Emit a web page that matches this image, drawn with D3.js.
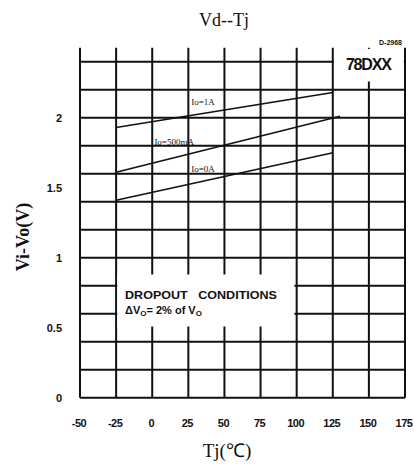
<!DOCTYPE html>
<html>
<head>
<meta charset="utf-8">
<script src="https://cdn.jsdelivr.net/npm/d3@7"></script>
<style>
  body { margin: 0; background: #fff; }
  svg { display: block; }
</style>
</head>
<body>
<svg id="chart" width="414" height="471"></svg>
<script>
// chart data
const xTicks = [-50, -25, 0, 25, 50, 75, 100, 125, 150, 175];
const yTicks = [0, 0.5, 1, 1.5, 2];
const yTickLabels = ["0", "0.5", "1", "1.5", "2"];

const seriesNames = ["Io=1A", "Io=500mA", "Io=0A"];
const io1A = [[-25, 1.93], [125, 2.18]];
const io500mA = [[-25, 1.61], [130, 2.01]];
const io0A = [[-25, 1.41], [125, 1.75]];
// where each series label sits, in data units (temp, volts at baseline)
const labelAt = [[27, 2.09], [1.5, 1.805], [27, 1.61]];

const width = 414, height = 471;
const margin = { top: 47.7, right: 9, bottom: 73.3, left: 80 };

const svg = d3.select('#chart');

const x = d3.scaleLinear().domain([-50, 175]).range([margin.left, width - margin.right]);
const y = d3.scaleLinear().domain([0, 2.5]).range([height - margin.bottom, margin.top]);

const ink = "#111";

// grid
const grid = svg.append("g").attr("stroke", ink).attr("stroke-width", 2);

grid.selectAll("line.h")
  .data(y.ticks(10))
  .join("line")
  .attr("class", "h")
  .attr("x1", x(-50)).attr("x2", x(175))
  .attr("y1", d => y(d)).attr("y2", d => y(d));

grid.selectAll("line.v")
  .data(xTicks)
  .join("line")
  .attr("class", "v")
  .attr("x1", d => x(d)).attr("x2", d => x(d))
  .attr("y1", y(2.5)).attr("y2", y(0));

// 78DXX box covers the top right cells
svg.append("rect")
  .attr("x", x(125) + 1.2).attr("y", y(2.5) + 1.2)
  .attr("width", x(175) - x(125) - 2.4)
  .attr("height", y(2.25) - y(2.5) - 2.4)
  .attr("fill", "#fff");

svg.append("text")
  .attr("x", (x(125) + x(175)) / 2).attr("y", 70)
  .attr("text-anchor", "middle")
  .attr("font-family", "Liberation Sans, Arial, sans-serif")
  .attr("font-weight", "bold")
  .attr("font-size", 16)
  .attr("textLength", 46)
  .attr("fill", ink)
  .text("78DXX");

svg.append("text")
  .attr("x", 402).attr("y", 45)
  .attr("text-anchor", "end")
  .attr("font-family", "Liberation Sans, Arial, sans-serif")
  .attr("font-weight", "bold")
  .attr("font-size", 7)
  .attr("fill", ink)
  .text("D-2968");

// dropout conditions box
svg.append("rect")
  .attr("x", x(-25) + 1.2).attr("y", y(0.88))
  .attr("width", x(100) - x(-25) - 3.5)
  .attr("height", y(0.5) - y(0.88) - 1.2)
  .attr("fill", "#fff");

const note = svg.append("text")
  .attr("font-family", "Liberation Sans, Arial, sans-serif")
  .attr("font-weight", "bold")
  .attr("font-size", 11)
  .style("white-space", "pre")
  .attr("fill", ink);
note.append("tspan")
  .attr("x", 125).attr("y", 299)
  .attr("textLength", 152)
  .attr("lengthAdjust", "spacingAndGlyphs")
  .text("DROPOUT   CONDITIONS");
const l2 = note.append("tspan").attr("x", 125).attr("y", 314).text("ΔV");
l2.append("tspan").attr("font-size", 8).attr("dy", 2).text("O");
l2.append("tspan").attr("dy", -2).text("= 2% of V");
l2.append("tspan").attr("font-size", 8).attr("dy", 2).text("O");

// series lines
const line = d3.line().x(d => x(d[0])).y(d => y(d[1]));
svg.append("g")
  .selectAll("path")
  .data([io1A, io500mA, io0A])
  .join("path")
  .attr("d", line)
  .attr("fill", "none")
  .attr("stroke", ink)
  .attr("stroke-width", 1.6);

svg.append("g")
  .selectAll("text")
  .data(seriesNames)
  .join("text")
  .attr("x", (d, i) => x(labelAt[i][0]))
  .attr("y", (d, i) => y(labelAt[i][1]))
  .attr("font-family", "Liberation Serif, Times New Roman, serif")
  .attr("font-size", 9)
  .attr("fill", ink)
  .text(d => d);

// tick labels
svg.append("g")
  .selectAll("text")
  .data(yTicks)
  .join("text")
  .attr("x", 62)
  .attr("y", d => y(d) + 4)
  .attr("text-anchor", "end")
  .attr("font-family", "Liberation Sans, Arial, sans-serif")
  .attr("font-weight", "bold")
  .attr("font-size", 11)
  .attr("fill", ink)
  .text((d, i) => yTickLabels[i]);

svg.append("g")
  .selectAll("text")
  .data(xTicks)
  .join("text")
  .attr("x", d => x(d) - 1)
  .attr("y", 427)
  .attr("text-anchor", "middle")
  .attr("font-family", "Liberation Sans, Arial, sans-serif")
  .attr("font-weight", "bold")
  .attr("font-size", 11)
  .attr("letter-spacing", -0.5)
  .attr("fill", ink)
  .text(d => d);

// titles
svg.append("text")
  .attr("x", 224).attr("y", 26)
  .attr("text-anchor", "middle")
  .attr("font-family", "Liberation Serif, Times New Roman, serif")
  .attr("font-size", 18)
  .attr("fill", ink)
  .text("Vd--Tj");

svg.append("text")
  .attr("x", 227).attr("y", 457)
  .attr("text-anchor", "middle")
  .attr("font-family", "Liberation Serif, Times New Roman, serif")
  .attr("font-size", 19)
  .attr("fill", ink)
  .text("Tj(℃)");

svg.append("text")
  .attr("transform", "translate(29,237) rotate(-90)")
  .attr("text-anchor", "middle")
  .attr("font-family", "Liberation Serif, Times New Roman, serif")
  .attr("font-weight", "bold")
  .attr("font-size", 18)
  .attr("fill", ink)
  .text("Vi-Vo(V)");
</script>
</body>
</html>
